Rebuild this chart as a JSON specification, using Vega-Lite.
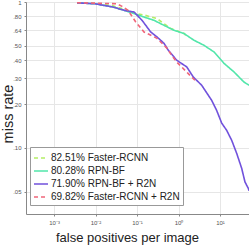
{
  "$schema": "https://vega.github.io/schema/vega-lite/v6.json",
  "width": 223,
  "height": 212,
  "autosize": {"type": "none"},
  "padding": {"left": 26, "top": 2, "right": 0, "bottom": 32},
  "background": "white",
  "config": {
    "view": {"stroke": null},
    "font": "Liberation Sans",
    "axis": {"labelFont": "Liberation Sans", "titleFont": "Liberation Sans", "titleFontWeight": "normal", "gridColor": "#e6e6e6", "gridWidth": 1, "domainColor": "#888888", "tickColor": "#888888", "labelColor": "#555555", "labelFontSize": 6, "tickSize": 2, "titleColor": "#222222"}
  },
  "data": {"values": [
    {"s": "82.51% Faster-RCNN", "x": 0.00358, "y": 0.987},
    {"s": "82.51% Faster-RCNN", "x": 0.00973, "y": 0.98},
    {"s": "82.51% Faster-RCNN", "x": 0.0264, "y": 0.942},
    {"s": "82.51% Faster-RCNN", "x": 0.0487, "y": 0.891},
    {"s": "82.51% Faster-RCNN", "x": 0.0985, "y": 0.833},
    {"s": "82.51% Faster-RCNN", "x": 0.156, "y": 0.811},
    {"s": "82.51% Faster-RCNN", "x": 0.303, "y": 0.77},
    {"s": "82.51% Faster-RCNN", "x": 0.649, "y": 0.658},
    {"s": "82.51% Faster-RCNN", "x": 1.358, "y": 0.608},
    {"s": "82.51% Faster-RCNN", "x": 1.49, "y": 0.592},

    {"s": "80.28% RPN-BF", "x": 0.00358, "y": 0.987},
    {"s": "80.28% RPN-BF", "x": 0.00973, "y": 0.972},
    {"s": "80.28% RPN-BF", "x": 0.0264, "y": 0.924},
    {"s": "80.28% RPN-BF", "x": 0.0487, "y": 0.877},
    {"s": "80.28% RPN-BF", "x": 0.0848, "y": 0.833},
    {"s": "80.28% RPN-BF", "x": 0.1476, "y": 0.789},
    {"s": "80.28% RPN-BF", "x": 0.257, "y": 0.749},
    {"s": "80.28% RPN-BF", "x": 0.448, "y": 0.692},
    {"s": "80.28% RPN-BF", "x": 0.78, "y": 0.64},
    {"s": "80.28% RPN-BF", "x": 1.358, "y": 0.608},
    {"s": "80.28% RPN-BF", "x": 2.36, "y": 0.547},
    {"s": "80.28% RPN-BF", "x": 4.11, "y": 0.505},
    {"s": "80.28% RPN-BF", "x": 7.16, "y": 0.455},
    {"s": "80.28% RPN-BF", "x": 12.47, "y": 0.38},
    {"s": "80.28% RPN-BF", "x": 21.7, "y": 0.332},
    {"s": "80.28% RPN-BF", "x": 37.8, "y": 0.283},
    {"s": "80.28% RPN-BF", "x": 50, "y": 0.269},

    {"s": "71.90% RPN-BF + R2N", "x": 0.00358, "y": 0.987},
    {"s": "71.90% RPN-BF + R2N", "x": 0.00973, "y": 0.972},
    {"s": "71.90% RPN-BF + R2N", "x": 0.0264, "y": 0.924},
    {"s": "71.90% RPN-BF + R2N", "x": 0.0487, "y": 0.877},
    {"s": "71.90% RPN-BF + R2N", "x": 0.0848, "y": 0.854},
    {"s": "71.90% RPN-BF + R2N", "x": 0.132, "y": 0.749},
    {"s": "71.90% RPN-BF + R2N", "x": 0.214, "y": 0.623},
    {"s": "71.90% RPN-BF + R2N", "x": 0.303, "y": 0.576},
    {"s": "71.90% RPN-BF + R2N", "x": 0.448, "y": 0.521},
    {"s": "71.90% RPN-BF + R2N", "x": 0.568, "y": 0.467},
    {"s": "71.90% RPN-BF + R2N", "x": 0.906, "y": 0.399},
    {"s": "71.90% RPN-BF + R2N", "x": 1.58, "y": 0.359},
    {"s": "71.90% RPN-BF + R2N", "x": 2.28, "y": 0.306},
    {"s": "71.90% RPN-BF + R2N", "x": 3.62, "y": 0.269},
    {"s": "71.90% RPN-BF + R2N", "x": 6.3, "y": 0.212},
    {"s": "71.90% RPN-BF + R2N", "x": 8.3, "y": 0.181},
    {"s": "71.90% RPN-BF + R2N", "x": 11, "y": 0.148},
    {"s": "71.90% RPN-BF + R2N", "x": 14.5, "y": 0.132},
    {"s": "71.90% RPN-BF + R2N", "x": 19.1, "y": 0.113},
    {"s": "71.90% RPN-BF + R2N", "x": 25.2, "y": 0.092},
    {"s": "71.90% RPN-BF + R2N", "x": 33.3, "y": 0.0726},
    {"s": "71.90% RPN-BF + R2N", "x": 40, "y": 0.0585},
    {"s": "71.90% RPN-BF + R2N", "x": 48, "y": 0.053},
    {"s": "71.90% RPN-BF + R2N", "x": 50, "y": 0.051},

    {"s": "69.82% Faster-RCNN + R2N", "x": 0.00358, "y": 0.99},
    {"s": "69.82% Faster-RCNN + R2N", "x": 0.033, "y": 0.972},
    {"s": "69.82% Faster-RCNN + R2N", "x": 0.0436, "y": 0.934},
    {"s": "69.82% Faster-RCNN + R2N", "x": 0.0607, "y": 0.877},
    {"s": "69.82% Faster-RCNN + R2N", "x": 0.0931, "y": 0.73},
    {"s": "69.82% Faster-RCNN + R2N", "x": 0.1476, "y": 0.623},
    {"s": "69.82% Faster-RCNN + R2N", "x": 0.303, "y": 0.564},
    {"s": "69.82% Faster-RCNN + R2N", "x": 0.528, "y": 0.482},
    {"s": "69.82% Faster-RCNN + R2N", "x": 0.686, "y": 0.431},
    {"s": "69.82% Faster-RCNN + R2N", "x": 0.92, "y": 0.386},
    {"s": "69.82% Faster-RCNN + R2N", "x": 1.19, "y": 0.359},
    {"s": "69.82% Faster-RCNN + R2N", "x": 1.72, "y": 0.323},
    {"s": "69.82% Faster-RCNN + R2N", "x": 2.75, "y": 0.283}
  ]},
  "mark": {"type": "line", "clip": true, "strokeWidth": 1.6},
  "encoding": {
    "x": {"field": "x", "type": "quantitative",
      "scale": {"type": "log", "domain": [0.000211, 50], "nice": false},
      "axis": {"values": [0.001, 0.01, 0.1, 1, 10], "labelExpr": "datum.value < 0.005 ? '10⁻³' : datum.value < 0.05 ? '10⁻²' : datum.value < 0.5 ? '10⁻¹' : datum.value < 5 ? '10⁰' : '10¹'", "title": "false positives per image", "titleFontSize": 13, "titleX": 101, "titleY": 27.5, "titleBaseline": "alphabetic", "titleAlign": "center", "labelPadding": 3}},
    "y": {"field": "y", "type": "quantitative",
      "scale": {"type": "log", "domain": [0.0353, 1], "nice": false},
      "axis": {"values": [0.05, 0.1, 0.2, 0.3, 0.4, 0.5, 0.64, 0.8, 1], "labelExpr": "datum.value == 1 ? '1' : replace(format(datum.value, '.2f'), '0.', '.')", "title": "miss rate", "titleFontSize": 14.5, "titleAngle": 270, "titleX": -13.3, "titleY": 111.5, "titleBaseline": "alphabetic", "titleAlign": "center", "labelPadding": 3}},
    "color": {"field": "s", "type": "nominal",
      "scale": {"domain": ["82.51% Faster-RCNN", "80.28% RPN-BF", "71.90% RPN-BF + R2N", "69.82% Faster-RCNN + R2N"], "range": ["#b4ee66", "#52e6aa", "#7152dc", "#f0657a"]},
      "legend": {"title": null, "orient": "none", "legendX": 4, "legendY": 145, "symbolType": "stroke", "symbolSize": 196, "symbolStrokeWidth": 1.6, "labelFontSize": 10, "labelColor": "#222222", "labelFont": "Liberation Sans", "rowPadding": 0, "padding": 3, "strokeColor": "#999999", "fillColor": "white", "cornerRadius": 0, "labelOffset": 2}},
    "strokeDash": {"field": "s", "type": "nominal",
      "scale": {"domain": ["82.51% Faster-RCNN", "80.28% RPN-BF", "71.90% RPN-BF + R2N", "69.82% Faster-RCNN + R2N"], "range": [[4, 3], [1, 0], [1, 0], [4, 3]]},
      "legend": null}
  }
}
